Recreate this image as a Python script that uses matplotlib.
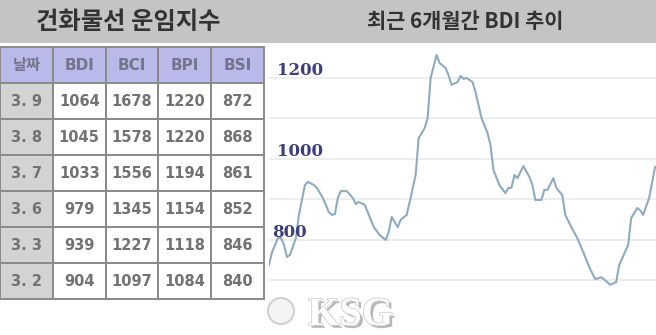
import matplotlib.pyplot as plt
import matplotlib.patheffects as pe
from matplotlib.patches import Rectangle, Circle
from matplotlib.transforms import blended_transform_factory

plt.rcParams['font.family'] = ['Noto Sans CJK KR', 'DejaVu Sans']

# table data
col_labels = ['날짜', 'BDI', 'BCI', 'BPI', 'BSI']
dates = ['3. 9', '3. 8', '3. 7', '3. 6', '3. 3', '3. 2']
bdi = [1064, 1045, 1033, 979, 939, 904]
bci = [1678, 1578, 1556, 1345, 1227, 1097]
bpi = [1220, 1220, 1194, 1154, 1118, 1084]
bsi = [872, 868, 861, 852, 846, 840]

# BDI line over the last 6 months (trading day index)
days = [0, 1, 3, 4, 5, 6, 7, 9, 10, 12, 13, 15, 16, 18, 20, 21, 22, 23, 24, 26,
        28, 29, 30, 32, 34, 35, 37, 39, 40, 41, 43, 44, 46, 47, 49, 50, 52, 53, 54, 56,
        57, 59, 60, 61, 63, 64, 65, 66, 68, 69, 71, 73, 74, 75, 77, 79, 80, 81, 82, 83,
        85, 87, 88, 89, 91, 92, 93, 95, 96, 98, 99, 101, 103, 105, 107, 109, 111, 113, 114, 116,
        117, 120, 121, 123, 124, 125, 127, 129]
bdi_trend = [737, 769, 804, 804, 787, 757, 762, 804, 861, 935, 943, 935, 928, 903, 868, 861, 863, 903, 920, 920,
             903, 888, 893, 886, 849, 831, 811, 799, 819, 856, 831, 849, 861, 893, 960, 1051, 1076, 1101, 1200, 1257,
             1237, 1225, 1207, 1183, 1190, 1205, 1198, 1200, 1190, 1165, 1101, 1064, 1034, 972, 935, 915, 928, 928, 960, 952,
             982, 955, 935, 898, 898, 923, 923, 952, 928, 910, 861, 831, 804, 769, 732, 702, 707, 695, 688, 695,
             737, 787, 853, 878, 873, 861, 903, 980]
y_labels = [1200, 1000, 800]

W, H = 656, 335
fig = plt.figure(figsize=(W / 100, H / 100), dpi=100)
fig.patch.set_facecolor('white')

# title bar
fig.patches.append(Rectangle((0, 1 - 43 / H), 1, 43 / H, transform=fig.transFigure,
                             facecolor='#c4c4c4', edgecolor='none', zorder=0))
fig.text(128 / W, 1 - 22 / H, '건화물선 운임지수', ha='center', va='center',
         fontsize=17.5, fontweight='bold', color='#333333')
fig.text(465 / W, 1 - 22 / H, '최근 6개월간 BDI 추이', ha='center', va='center',
         fontsize=15, fontweight='bold', color='#333333')

# table
tax = fig.add_axes([0, (H - 299) / H, 264 / W, 252 / H])
tax.axis('off')
cells = [[d, str(a), str(b), str(c), str(e)] for d, a, b, c, e in zip(dates, bdi, bci, bpi, bsi)]
colors = [['#d3d3d3'] + ['white'] * 4 for _ in dates]
tbl = tax.table(cellText=cells, colLabels=col_labels, cellColours=colors,
                colColours=['#b9b9ea'] * 5, cellLoc='center', bbox=[0, 0, 1, 1])
tbl.auto_set_font_size(False)
for (r, c), cell in tbl.get_celld().items():
    cell.set_edgecolor('#8a8a8a')
    cell.set_linewidth(1.4)
    txt = cell.get_text()
    txt.set_family(['DejaVu Sans', 'Noto Sans CJK KR'])
    txt.set_fontsize(10.5)
    txt.set_fontweight('bold')
    txt.set_color('#727272')
    if r == 0:
        txt.set_color('#74748a')
        txt.set_fontsize(11)

# line chart
ax = fig.add_axes([269 / W, (H - 300) / H, 387 / W, 255 / H])
ax.plot(days, bdi_trend, color='#8eabc2', linewidth=1.5)
ax.set_xlim(0, 129.3)
ax.set_ylim(650.5, 1281.7)
ax.set_yticks([700, 800, 900, 1000, 1100, 1200])
ax.grid(axis='y', color='#ececec', linewidth=1.3)
ax.set_axisbelow(True)
ax.tick_params(left=False, bottom=False, labelleft=False, labelbottom=False)
for s in ax.spines.values():
    s.set_visible(False)

trans = blended_transform_factory(ax.transAxes, ax.transData)
for v, xf in zip(y_labels, [0.021, 0.021, 0.008]):
    ax.text(xf, v + 7, str(v), transform=trans, ha='left', va='baseline',
            family='DejaVu Serif', fontweight='bold', fontsize=12, color='#3e3e7c')

# watermark
wm = fig.text(308 / W, (H - 325) / H, 'KSG', family='Liberation Serif', fontweight='bold',
              fontsize=29, color='white', zorder=10)
wm.set_path_effects([pe.withSimplePatchShadow(offset=(2, -2), shadow_rgbFace='#888888', alpha=0.6),
                     pe.Stroke(linewidth=1, foreground='#c8c8c8'), pe.Normal()])
fig.patches.append(Circle((2.81, 0.24), 0.13, transform=fig.dpi_scale_trans,
                          facecolor='#f4f4f4', edgecolor='#d0d0d0', linewidth=1.5, zorder=10))

fig.savefig('out.png', dpi=100)
